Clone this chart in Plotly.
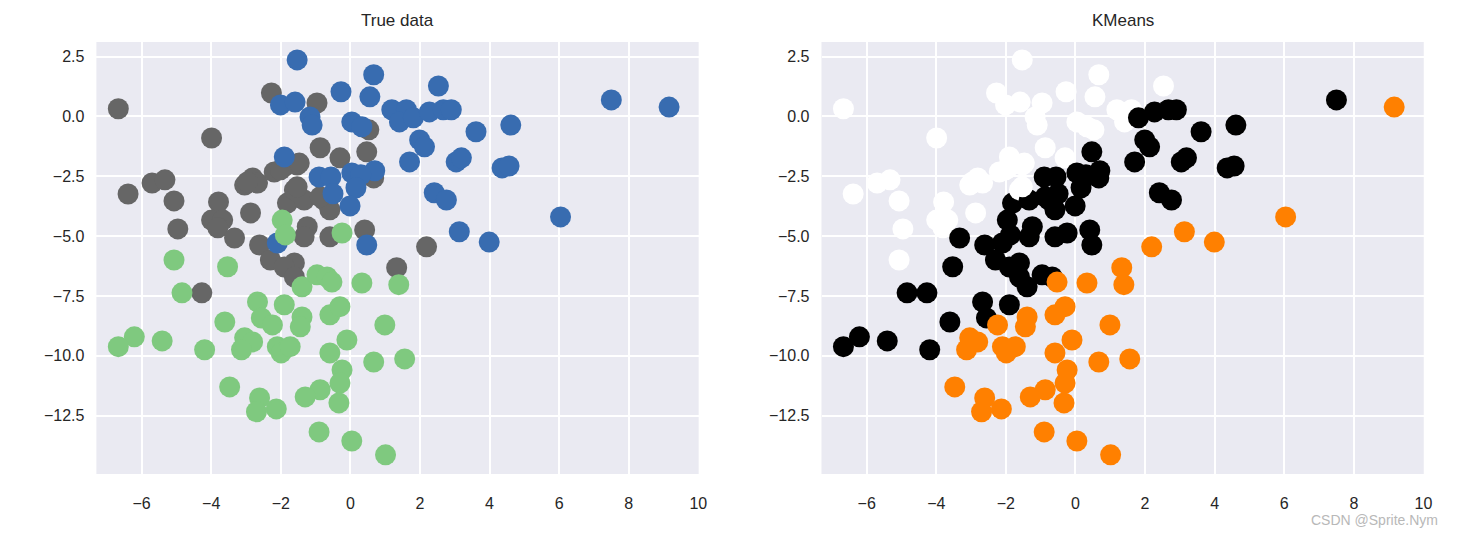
import plotly.graph_objects as go

# ---------------- data ----------------
# class "gray" (Accent #666666)
gray_x = [-6.67, -3.99, -2.27, -0.96, 0.53, -6.39, -5.70, -5.33, -5.07, -4.96, -3.79, -3.99,
          -3.67, -3.81, -3.33, -2.87, -3.04, -2.81, -2.67, -2.19, -1.90, -2.61, -1.81, -4.27,
          -0.87, -2.01, -1.53, -2.96, -1.61, -1.33, -1.24, -1.33, -0.59, -2.30, -1.61, -1.90,
          -1.61, -0.30, 0.47, 0.67, -0.76, -0.59, 0.41, 1.33, 2.19, -1.47, -1.53, -0.87]
gray_y = [0.32, -0.90, 0.98, 0.56, -0.56, -3.24, -2.78, -2.65, -3.53, -4.70, -3.57, -4.33,
          -4.33, -4.65, -5.08, -4.03, -2.87, -2.57, -2.78, -2.32, -2.10, -5.37, -3.62, -7.37,
          -1.31, -2.23, -2.03, -2.74, -3.07, -3.49, -4.61, -5.03, -5.03, -6.00, -6.12, -6.29,
          -6.71, -1.73, -1.48, -2.57, -3.49, -3.90, -4.74, -6.32, -5.45, -1.95, -2.94, -3.36]
gray_km = ["w", "w", "w", "w", "w", "w", "w", "w", "w", "w", "w", "w",
           "w", "w", "b", "w", "w", "w", "w", "w", "w", "b", "b", "b",
           "w", "w", "w", "w", "w", "b", "b", "b", "b", "b", "b", "b",
           "b", "w", "b", "b", "b", "b", "b", "o", "o", "w", "w", "b"]

# class "blue" (Accent #386cb0)
blue_x = [-1.53, 0.67, -2.01, -1.59, -0.27, 0.56, -1.16, -1.10, 0.04, 0.33, 1.19, 1.61,
          1.41, 1.81, 2.27, 2.67, 1.99, 2.13, 1.70, 2.53, 2.90, 3.61, 4.61, 3.04,
          3.19, 4.36, 4.56, 2.41, 2.76, 3.13, 3.99, 6.04, 7.50, 9.16, -1.90, -0.90,
          -0.56, 0.04, 0.70, 0.30, -0.50, 0.16, -0.01, 0.47, -2.10]
blue_y = [2.36, 1.74, 0.48, 0.60, 1.03, 0.82, -0.02, -0.36, -0.23, -0.43, 0.28, 0.28,
          -0.23, -0.06, 0.19, 0.28, -0.98, -1.27, -1.90, 1.27, 0.28, -0.64, -0.36, -1.90,
          -1.73, -2.15, -2.07, -3.19, -3.49, -4.82, -5.25, -4.20, 0.69, 0.39, -1.69, -2.53,
          -2.53, -2.36, -2.27, -2.44, -3.23, -2.98, -3.74, -5.37, -5.29]
blue_km = ["w", "w", "w", "w", "w", "w", "w", "w", "w", "w", "w", "w",
           "w", "b", "b", "b", "b", "b", "b", "w", "b", "b", "b", "b",
           "b", "b", "b", "b", "b", "o", "o", "o", "b", "o", "w", "b",
           "b", "b", "b", "b", "b", "b", "b", "b", "b"]

# class "green" (Accent #7fc97f)
green_x = [-5.07, -4.84, -3.53, -6.21, -6.67, -5.41, -4.19, -3.61, -3.04, -2.81, -3.13, -2.67,
           -2.56, -2.24, -1.90, -2.10, -1.99, -3.47, -2.61, -2.70, -2.13, -1.39, -0.96, -0.67,
           -0.53, 0.33, 1.39, -1.39, -1.44, -0.59, -0.30, 0.99, -1.73, -0.59, -0.10, 0.67,
           1.56, -0.24, -0.30, -0.87, -1.30, -0.33, -0.90, 0.04, 1.01, -1.96, -1.87, -0.24]
green_y = [-6.00, -7.37, -6.28, -9.21, -9.62, -9.38, -9.75, -8.59, -9.25, -9.42, -9.75, -7.75,
           -8.42, -8.71, -7.87, -9.62, -9.88, -11.30, -11.76, -12.34, -12.22, -7.12, -6.62, -6.71,
           -6.92, -6.96, -7.03, -8.38, -8.79, -8.29, -7.95, -8.71, -9.62, -9.88, -9.34, -10.26,
           -10.13, -10.59, -11.14, -11.42, -11.72, -11.97, -13.18, -13.56, -14.14, -4.33, -4.95, -4.87]
green_km = ["w", "b", "b", "b", "b", "b", "b", "b", "o", "o", "o", "b",
            "b", "o", "b", "o", "o", "o", "o", "o", "o", "b", "b", "b",
            "o", "o", "o", "o", "o", "o", "o", "o", "o", "o", "o", "o",
            "o", "o", "o", "o", "o", "o", "o", "o", "o", "b", "b", "b"]

x_ticks = [-6, -4, -2, 0, 2, 4, 6, 8, 10]
y_ticks = [2.5, 0.0, -2.5, -5.0, -7.5, -10.0, -12.5]
titles = ["True data", "KMeans"]

# ---------------- styles ----------------
true_colors = {"gray": "#666666", "blue": "#386cb0", "green": "#7fc97f"}
km_colors = {"w": "#ffffff", "b": "#000000", "o": "#ff8000"}

all_x = gray_x + blue_x + green_x
all_y = gray_y + blue_y + green_y
true_c = ([true_colors["gray"]] * len(gray_x) + [true_colors["blue"]] * len(blue_x)
          + [true_colors["green"]] * len(green_x))
km_c = [km_colors[k] for k in gray_km + blue_km + green_km]

fig = go.Figure()
fig.add_trace(go.Scatter(x=all_x, y=all_y, mode="markers", xaxis="x", yaxis="y",
                         marker=dict(size=21, color=true_c, line=dict(width=0)),
                         showlegend=False, hoverinfo="skip"))
fig.add_trace(go.Scatter(x=all_x, y=all_y, mode="markers", xaxis="x2", yaxis="y2",
                         marker=dict(size=21, color=km_c, line=dict(width=0)),
                         showlegend=False, hoverinfo="skip"))

W, H = 1459, 535
dom1 = [97 / W, 703 / W]
dom2 = [826.6 / W, 1432.6 / W]
ydom = [1 - 474 / H, 1 - 42 / H]
font = "Liberation Sans, Arial, sans-serif"
tick_font = dict(family=font, size=16, color="#262626")

def xax(domain, anchor):
    return dict(domain=domain, anchor=anchor, range=[-7.30, 10.01], tickvals=x_ticks,
                showgrid=True, gridcolor="white", gridwidth=1.5, zeroline=False,
                showline=False, ticks="", tickfont=tick_font, ticklabelstandoff=18,
                fixedrange=True)

def yax(anchor):
    return dict(domain=ydom, anchor=anchor, range=[-14.94, 3.11], tickvals=y_ticks,
                tickformat=".1f", showgrid=True, gridcolor="white", gridwidth=1.5,
                zeroline=False, showline=False, ticks="", tickfont=tick_font,
                ticklabelstandoff=11, fixedrange=True)

fig.update_layout(
    width=W, height=H,
    margin=dict(l=0, r=0, t=0, b=0),
    paper_bgcolor="white",
    plot_bgcolor="#eaeaf2",
    xaxis=xax(dom1, "y"),
    yaxis=yax("x"),
    xaxis2=xax(dom2, "y2"),
    yaxis2=yax("x2"),
    annotations=[
        dict(text=titles[0], x=(dom1[0] + dom1[1]) / 2, y=1 - 20 / H, xref="paper", yref="paper",
             showarrow=False, xanchor="center", yanchor="middle",
             font=dict(family=font, size=17, color="#262626")),
        dict(text=titles[1], x=(dom2[0] + dom2[1]) / 2, y=1 - 20 / H, xref="paper", yref="paper",
             showarrow=False, xanchor="center", yanchor="middle",
             font=dict(family=font, size=17, color="#262626")),
        dict(text="CSDN @Sprite.Nym", x=1449 / W, y=1 - 520 / H, xref="paper", yref="paper",
             showarrow=False, xanchor="right", yanchor="middle",
             font=dict(family=font, size=14, color="#b8b8b8")),
    ],
)

fig.write_html("out.html")
